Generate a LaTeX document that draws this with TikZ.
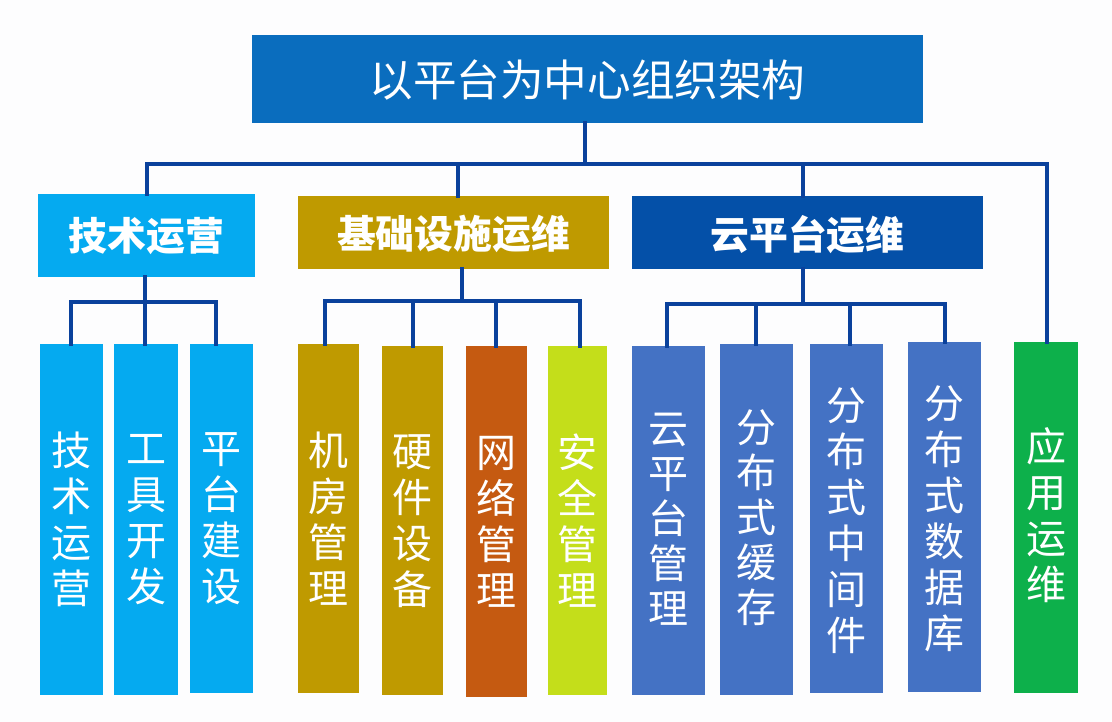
\documentclass[tikz,border=0pt]{standalone}
\usepackage{fontspec}
\setmainfont{Noto Sans CJK SC}
\definecolor{bgc}{HTML}{FDFDFE}
\definecolor{topc}{HTML}{0A6DBE}
\definecolor{skyc}{HTML}{05AAF0}
\definecolor{goldc}{HTML}{BF9A00}
\definecolor{navyc}{HTML}{0450A8}
\definecolor{bluec}{HTML}{4472C4}
\definecolor{orangec}{HTML}{C55A11}
\definecolor{limec}{HTML}{C4DE1A}
\definecolor{greenc}{HTML}{0DB04B}
\definecolor{linec}{HTML}{0A419C}
\tikzset{
  x=1pt,y=-1pt,
  box/.style={draw=none,inner sep=0pt,outer sep=0pt},
  label text/.style={inner sep=0pt,outer sep=0pt,text=white,align=center},
  titletext/.style={label text,font=\fontsize{43.6}{50}\selectfont},
  headtext/.style={label text,font=\fontsize{38.8}{44}\bfseries\selectfont},
  leaftext/.style={label text,font=\fontsize{40}{46}\selectfont},
  tighttext/.style={label text,font=\fontsize{40}{45}\selectfont},
  conn/.style={draw=linec,line width=3.6pt,line cap=rect,line join=miter},
}
% name, text style, colour, x1, y1, x2, y2, text shift, text
\newcommand{\bx}[9]{%
  \node[box,fill=#3,minimum width={#6-#4},minimum height={#7-#5}] (#1) at ({(#4+#6)/2},{(#5+#7)/2}) {};
  \node[#2] (#1t) at ({(#4+#6)/2},{(#5+#7)/2+(#8)}) {#9};
}
\begin{document}
\begin{tikzpicture}
\useasboundingbox[fill=bgc] (0,0) rectangle (1112,722);
\bx{top}{titletext}{topc}{252}{35}{923}{123}{1}{以平台为中心组织架构}
\bx{tech}{headtext}{skyc}{38}{194}{255}{277}{1}{技术运营}
\bx{infra}{headtext}{goldc}{298}{196}{609}{269}{1.5}{基础设施运维}
\bx{cloud}{headtext}{navyc}{632}{196}{983}{269}{2.5}{云平台运维}
\bx{a}{leaftext}{skyc}{40}{344}{103}{695}{0}{技\\术\\运\\营}
\bx{b}{leaftext}{skyc}{114}{344}{178}{695}{0}{工\\具\\开\\发}
\bx{c}{leaftext}{skyc}{190}{344}{253}{693}{0}{平\\台\\建\\设}
\bx{d}{leaftext}{goldc}{298}{344}{359}{693}{0}{机\\房\\管\\理}
\bx{e}{leaftext}{goldc}{382}{346}{443}{695}{1}{硬\\件\\设\\备}
\bx{f}{leaftext}{orangec}{466}{346}{527}{697}{0}{网\\络\\管\\理}
\bx{g}{leaftext}{limec}{548}{346}{607}{695}{0}{安\\全\\管\\理}
\bx{h}{tighttext}{bluec}{632}{346}{705}{695}{-1.5}{云\\平\\台\\管\\理}
\bx{i}{tighttext}{bluec}{720}{344}{793}{695}{-2}{分\\布\\式\\缓\\存}
\bx{j}{leaftext}{bluec}{810}{344}{883}{693}{2.5}{分\\布\\式\\中\\间\\件}
\bx{k}{leaftext}{bluec}{908}{342}{981}{692}{2}{分\\布\\式\\数\\据\\库}
\bx{l}{leaftext}{greenc}{1014}{342}{1078}{693}{-2}{应\\用\\运\\维}
% buses
\coordinate (m0) at (585,164);
\coordinate (m1) at (147,164);
\coordinate (m2) at (458,164);
\coordinate (m3) at (803,164);
\coordinate (m4) at (1047,164);
\coordinate (t0) at (145,302);
\coordinate (t1) at (71,302);
\coordinate (t3) at (216,302);
\coordinate (n0) at (462,301);
\coordinate (n1) at (325,301);
\coordinate (n2) at (413,301);
\coordinate (n3) at (496,301);
\coordinate (n4) at (580,301);
\coordinate (y0) at (803,304);
\coordinate (y1) at (667,304);
\coordinate (y2) at (756,304);
\coordinate (y3) at (850,304);
\coordinate (y4) at (945,304);
\draw[conn] (top.south -| m0) -- (m0);
\draw[conn] (m1 |- tech.north) -- (m1) -- (m4) -- (m4 |- l.north);
\draw[conn] (m2) -- (m2 |- infra.north);
\draw[conn] (m3) -- (m3 |- cloud.north);
\draw[conn] (tech.south -| t0) -- (t0 |- b.north);
\draw[conn] (t1 |- a.north) -- (t1) -- (t3) -- (t3 |- c.north);
\draw[conn] (infra.south -| n0) -- (n0);
\draw[conn] (n1 |- d.north) -- (n1) -- (n4) -- (n4 |- g.north);
\draw[conn] (n2) -- (n2 |- e.north);
\draw[conn] (n3) -- (n3 |- f.north);
\draw[conn] (cloud.south -| y0) -- (y0);
\draw[conn] (y1 |- h.north) -- (y1) -- (y4) -- (y4 |- k.north);
\draw[conn] (y2) -- (y2 |- i.north);
\draw[conn] (y3) -- (y3 |- j.north);
\end{tikzpicture}
\end{document}
